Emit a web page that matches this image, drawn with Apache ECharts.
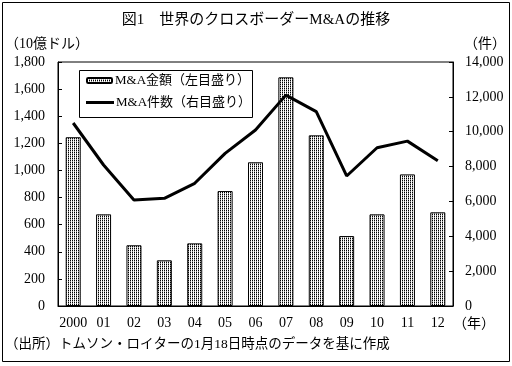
<!DOCTYPE html>
<html><head><meta charset="utf-8">
<script src="https://cdn.jsdelivr.net/npm/echarts@6/dist/echarts.min.js"></script>
<style>html,body{margin:0;padding:0;background:#fff}#c{width:512px;height:366px}</style>
</head><body><div id="c"></div>
<script>
const categories = ['2000','01','02','03','04','05','06','07','08','09','10','11','12'];
const dealValue = [1245, 676, 448, 337, 462, 848, 1060, 1687, 1259, 516, 676, 971, 691];
const dealCount = [10500, 8090, 6080, 6180, 7040, 8760, 10100, 12100, 11150, 7460, 9080, 9460, 8340];
const leftTicks = {min: 0, max: 1800, interval: 200};
const rightTicks = {min: 0, max: 14000, interval: 2000};
const titleText = '図1　世界のクロスボーダーM&Aの推移';
const noteText = '（出所）トムソン・ロイターの1月18日時点のデータを基に作成';
const barName = 'M&A金額（左目盛り）';
const lineName = 'M&A件数（右目盛り）';

const FONT = "'Liberation Serif','Noto Sans CJK JP',serif";
function makePattern(){
  const c = document.createElement('canvas'); c.width = 2; c.height = 2;
  const g = c.getContext('2d');
  g.fillStyle = '#fff'; g.fillRect(0,0,2,2);
  g.fillStyle = '#000'; g.fillRect(0,0,1,1);
  g.fillStyle = '#999'; g.fillRect(0,1,1,1);
  return c;
}
const pattern = {image: makePattern(), repeat: 'repeat'};
const fmt = v => v.toLocaleString('en-US');
const chart = echarts.init(document.getElementById('c'), null, {renderer:'canvas'});
chart.setOption({
  backgroundColor: '#fff',
  animation: false,
  textStyle: {fontFamily: FONT, color: '#000'},
  grid: {left: 58, right: 59, top: 62, bottom: 60, show: true, borderColor: '#000', borderWidth: 1, backgroundColor: 'transparent'},
  legend: [{
    left: 86, top: 74, orient: 'vertical', z: 10,
    itemWidth: 25, itemHeight: 5, itemGap: 0,
    padding: 0,
    textStyle: {fontSize: 13, color: '#000', fontFamily: FONT, padding: [0,0,0,-2]},
    data: [barName]
  },{
    left: 86, top: 96, orient: 'vertical', z: 10,
    itemWidth: 28, itemHeight: 3, itemGap: 0,
    padding: 0,
    textStyle: {fontSize: 13, color: '#000', fontFamily: FONT, padding: [0,0,0,-3]},
    data: [{name: lineName, icon: 'rect'}]
  }],
  xAxis: {
    type: 'category', data: categories, boundaryGap: true,
    axisLine: {lineStyle: {color: '#000', width: 1}},
    axisTick: {inside: true, length: 4, lineStyle: {color: '#000'}},
    axisLabel: {color: '#000', fontSize: 14, margin: 10, interval: 0, hideOverlap: false, fontFamily: FONT}
  },
  yAxis: [{
    type: 'value', ...leftTicks, position: 'left',
    splitLine: {show: false},
    axisLine: {show: true, lineStyle: {color: '#000'}},
    axisTick: {show: true, inside: true, length: 4, lineStyle: {color: '#000'}},
    axisLabel: {color: '#000', fontSize: 14, margin: 13, formatter: fmt, fontFamily: FONT}
  },{
    type: 'value', ...rightTicks, position: 'right',
    splitLine: {show: false},
    axisLine: {show: true, lineStyle: {color: '#000'}},
    axisTick: {show: true, inside: true, length: 4, lineStyle: {color: '#000'}},
    axisLabel: {color: '#000', fontSize: 14, margin: 12, formatter: fmt, fontFamily: FONT}
  }],
  series: [{
    name: barName, type: 'bar', yAxisIndex: 0, data: dealValue,
    barWidth: 15,
    itemStyle: {color: pattern, borderColor: '#000', borderWidth: 1}
  },{
    name: lineName, type: 'line', yAxisIndex: 1, data: dealCount,
    symbol: 'none', lineStyle: {color: '#000', width: 3}, itemStyle: {color: '#000'}
  }],
  graphic: [
    {type: 'rect', shape: {x: 2.5, y: 2.5, width: 507, height: 359}, style: {fill: 'none', stroke: '#000', lineWidth: 1}, silent: true},
    {type: 'rect', shape: {x: 79.5, y: 70.5, width: 173, height: 47}, style: {fill: '#fff', stroke: '#000', lineWidth: 1}, silent: true, z: 3},
    {type: 'text', left: 'center', top: 13, style: {text: titleText, font: "15px " + FONT, fill: '#000'}},
    {type: 'text', left: 5, top: 37, style: {text: '（10億ドル）', font: "14px " + FONT, fill: '#000'}},
    {type: 'text', left: 464, top: 37, style: {text: '（件）', font: "14px " + FONT, fill: '#000'}},
    {type: 'text', left: 453, top: 317, style: {text: '（年）', font: "14px " + FONT, fill: '#000'}},
    {type: 'text', left: 5, top: 338, style: {text: noteText, font: "13.5px " + FONT, fill: '#000'}}
  ]
});
</script></body></html>
